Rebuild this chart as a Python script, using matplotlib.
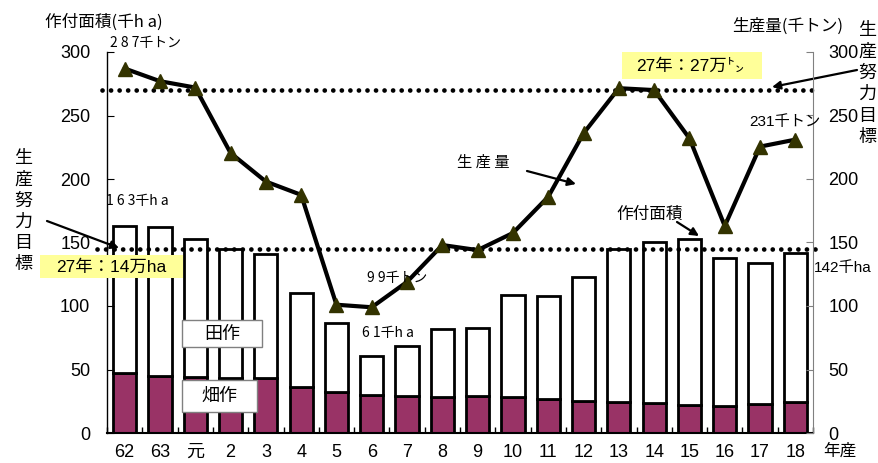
import numpy as np
import matplotlib
matplotlib.use("Agg")
import matplotlib.pyplot as plt
from matplotlib.patches import Rectangle

plt.rcParams['font.family'] = ['Liberation Sans', 'Noto Sans CJK JP']

# 年産ごとの作付面積(千ha)と生産量(千トン)
years = ["62", "63", "元", "2", "3", "4", "5", "6", "7", "8", "9",
         "10", "11", "12", "13", "14", "15", "16", "17", "18"]
area_total = [163, 162, 152.5, 145, 141, 110, 87, 61, 68.5, 82, 83,
              109, 108, 123, 145, 150, 152.5, 137.5, 134, 142]
area_upland = [47.5, 45, 44, 43, 43.5, 36.5, 32, 30, 29, 28.3, 29,
               28.3, 27, 25.4, 24.6, 23.6, 22.3, 21.5, 22.8, 24.6]
production = [287, 277, 272, 220.5, 198, 187.5, 101, 99, 119, 148, 144,
              157.5, 186, 236, 271.5, 270, 232, 163, 225.5, 231]

# 生産努力目標(27年)
target_area = 145
target_prod = 270

W, H = 879, 463
CJK = 'Noto Sans CJK JP'


def fx(px):
    return px / W


def fy(py):
    return 1 - py / H


def ftext(px, py, s, **kw):
    kw.setdefault('ha', 'left')
    kw.setdefault('va', 'center')
    fig.text(fx(px), fy(py), s, **kw)


def farrow(x0, y0, x1, y1):
    ax.annotate('', xy=(fx(x1), fy(y1)), xycoords='figure fraction',
                xytext=(fx(x0), fy(y0)), textcoords='figure fraction',
                arrowprops=dict(arrowstyle='-|>', lw=1.6, color='black',
                                mutation_scale=12, shrinkA=0, shrinkB=0),
                annotation_clip=False)


fig = plt.figure(figsize=(W / 100, H / 100), dpi=100)
ax = fig.add_axes([fx(107), fy(433), (813 - 107) / W, (433 - 52) / H])
ax2 = ax.twinx()

x = np.arange(len(years))
paddy = np.array(area_total) - np.array(area_upland)

# 作付面積: 畑作(下) + 田作(上)
ax.bar(x, area_upland, width=0.66, color='#993366', edgecolor='black', linewidth=2)
ax.bar(x, paddy, bottom=area_upland, width=0.66, color='white',
       edgecolor='black', linewidth=2)

ax.set_xlim(-0.5, len(years) - 0.5)
ax.set_ylim(0, 300)
ax2.set_ylim(0, 300)

# 目標ライン(点線)
dots = dict(color='black', lw=3.4, ls=(0, (0.01, 1.8)), dash_capstyle='round',
            clip_on=False, zorder=2)
ax2.plot([-0.78, 19.6], [target_area, target_area], **dots)
ax2.plot([-0.64, 19.6], [target_prod, target_prod], **dots)

# 生産量
ax2.plot(x, production, color='black', lw=3, marker='^', markersize=10,
         markerfacecolor='#333300', markeredgecolor='#333300', zorder=3,
         clip_on=False)

# 軸
ax.set_yticks(np.arange(0, 301, 50))
ax2.set_yticks(np.arange(0, 301, 50))
ax.set_xticks(x)
ax.set_xticklabels(years)
ax.set_xticks(np.arange(-0.5, len(years), 1), minor=True)
ax.tick_params(axis='x', which='major', length=0, pad=8, labelsize=13)
ax.tick_params(axis='x', which='minor', direction='in', length=4, width=1)
ax.tick_params(axis='y', direction='in', length=5, pad=12, labelsize=13)
ax2.tick_params(axis='y', direction='in', length=5, pad=11, labelsize=13,
                color='#808080')

for s in ['top', 'right']:
    ax.spines[s].set_visible(False)
for s in ['top', 'left', 'bottom']:
    ax2.spines[s].set_visible(False)
ax2.spines['right'].set_color('#808080')
ax.spines['left'].set_linewidth(1)
ax.spines['bottom'].set_linewidth(1.5)

# 軸タイトル
ftext(45, 22, "作付面積(千h a)", fontsize=12, family=CJK)
ftext(732, 26, "生産量(千トン)", fontsize=12, family=CJK)
ftext(823, 451, "年産", fontsize=12, family=CJK)

# 値ラベル
ftext(110, 43, "2 8 7千トン", fontsize=10, family=CJK)
ftext(106, 201, "1 6 3千h a", fontsize=10, family=CJK)
ftext(367, 278, "9 9千トン", fontsize=10, family=CJK)
ftext(362, 333, "6 1千h a", fontsize=10, family=CJK)
ftext(749, 122, f"{production[-1]:.0f}千トン", fontsize=11)
ftext(814, 268, f"{area_total[-1]:.0f}千ha", fontsize=11)

# 系列名
ftext(457, 162, "生 産 量", fontsize=11, family=CJK)
farrow(527, 171, 576, 184)
ftext(616, 214, "作付面積", fontsize=12, family=CJK)
farrow(677, 222, 699, 236)

# 生産努力目標(縦書き)
for i, ch in enumerate("生産努力目標"):
    ftext(23, 158 + 21.2 * i, ch, fontsize=13, ha='center', family=CJK)
    ftext(867, 30 + 21.4 * i, ch, fontsize=13, ha='center', family=CJK)
farrow(47, 221, 119, 248)
farrow(857, 70, 772, 87)

# 目標値ボックス
fig.add_artist(Rectangle((fx(40), fy(278)), fx(183) - fx(40), fy(255) - fy(278),
                         transform=fig.transFigure, facecolor='#FFFF99',
                         edgecolor='none', zorder=4))
ftext(56, 267, "27年：14万ha", fontsize=12.5, zorder=5)
fig.add_artist(Rectangle((fx(622), fy(79)), fx(762) - fx(622), fy(52) - fy(79),
                         transform=fig.transFigure, facecolor='#FFFF99',
                         edgecolor='none', zorder=4))
ftext(636, 66, "27年：27万㌧", fontsize=12.5, zorder=5)

# 凡例ボックス
for (x0, y0, x1, y1), s in [((182, 320, 262, 347), "田作"),
                            ((182, 380, 257, 412), "畑作")]:
    fig.add_artist(Rectangle((fx(x0), fy(y1)), fx(x1) - fx(x0), fy(y0) - fy(y1),
                             transform=fig.transFigure, facecolor='white',
                             edgecolor='#808080', lw=1, zorder=4))
    ftext((x0 + x1) / 2, (y0 + y1) / 2, s, fontsize=13, ha='center',
          family=CJK, zorder=5)

fig.savefig("out.png", dpi=100)
